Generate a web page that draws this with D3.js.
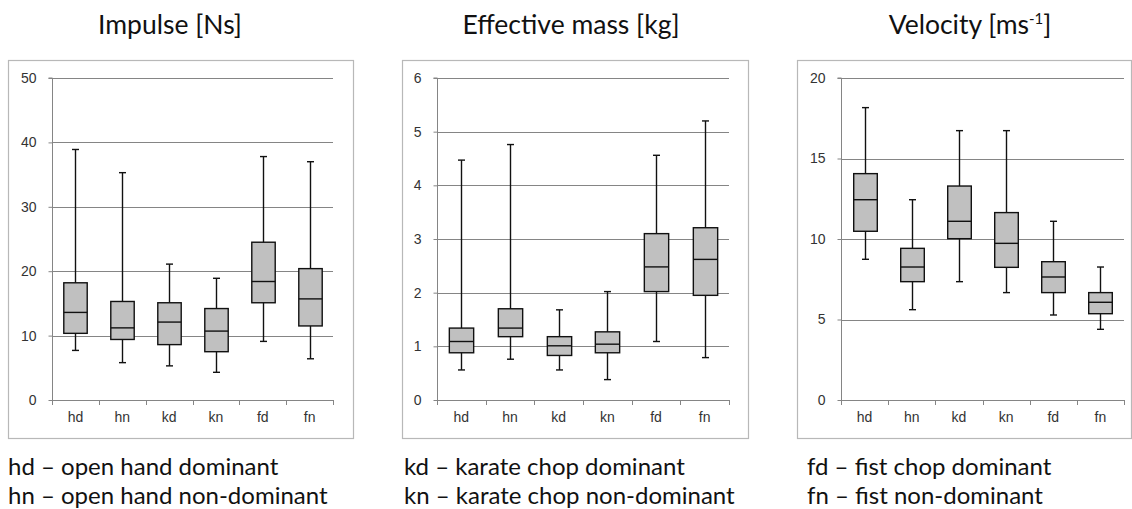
<!DOCTYPE html>
<html><head><meta charset="utf-8">
<script src="https://cdn.jsdelivr.net/npm/d3@7"></script>
<style>body{margin:0;background:#fff}svg{display:block}</style>
</head><body>
<svg id="c" width="1132" height="509"></svg>
<script>
const categories = ["hd","hn","kd","kn","fd","fn"];
// [low whisker, Q1, median, Q3, high whisker]
const impulse = [[7.7,10.35,13.6,18.2,38.9],[5.8,9.4,11.2,15.3,35.3],[5.3,8.6,12.1,15.1,21.1],[4.3,7.5,10.7,14.2,18.9],[9.1,15.1,18.4,24.5,37.8],[6.4,11.5,15.7,20.4,37.0]];
const mass = [[0.56,0.88,1.09,1.34,4.47],[0.76,1.18,1.34,1.70,4.76],[0.56,0.83,1.01,1.18,1.68],[0.38,0.88,1.04,1.27,2.02],[1.09,2.02,2.48,3.10,4.56],[0.79,1.95,2.62,3.21,5.20]];
const velocity = [[8.74,10.48,12.44,14.06,18.16],[5.61,7.35,8.26,9.42,12.44],[7.35,10.02,11.10,13.29,16.73],[6.67,8.24,9.73,11.64,16.73],[5.28,6.67,7.64,8.59,11.10],[4.39,5.36,6.07,6.67,8.26]];
const impulseTicks = [0,10,20,30,40,50];
const massTicks = [0,1,2,3,4,5,6];
const velocityTicks = [0,5,10,15,20];
const titles = ["Impulse [Ns]","Effective mass [kg]","Velocity [ms","-1","]"];
const legendLines = [["hd – open hand dominant","hn – open hand non-dominant"],["kd – karate chop dominant","kn – karate chop non-dominant"],["fd – fist chop dominant","fn – fist non-dominant"]];

const svg = d3.select("#c");
const panels = [
  {data:impulse, ticks:impulseTicks, max:50, frame:[8,60,353,438], plot:[52,333], title:titles[0], tx:170, legend:legendLines[0], lx:8},
  {data:mass, ticks:massTicks, max:6, frame:[402,60,748,438], plot:[437,729], title:titles[1], tx:571, legend:legendLines[1], lx:404},
  {data:velocity, ticks:velocityTicks, max:20, frame:[797,60,1131,438], plot:[841,1124], sup:true, tx:970, legend:legendLines[2], lx:807}
];
const yTop = 78, yBot = 400;
const fontUI = "Lato, 'Open Sans', sans-serif";

panels.forEach(p => {
  const g = svg.append("g");
  g.append("rect").attr("x",p.frame[0]+0.5).attr("y",p.frame[1]+0.5)
    .attr("width",p.frame[2]-p.frame[0]).attr("height",p.frame[3]-p.frame[1])
    .attr("fill","#fff").attr("stroke","#b8b8b8").attr("stroke-width",1.2);
  const x = d3.scaleBand().domain(categories).range(p.plot).paddingInner(0).paddingOuter(0);
  const y = d3.scaleLinear().domain([0,p.max]).range([yBot,yTop]);
  g.append("g").selectAll("line").data(p.ticks.filter(t=>t>0)).join("line")
    .attr("x1",p.plot[0]).attr("x2",p.plot[1])
    .attr("y1",d=>Math.round(y(d))+0.5).attr("y2",d=>Math.round(y(d))+0.5)
    .attr("stroke","#858585").attr("stroke-width",1.1);
  const ya = d3.axisLeft(y).tickValues(p.ticks).tickSize(4).tickPadding(12).tickFormat(d3.format("d"));
  const yg = g.append("g").attr("transform",`translate(${p.plot[0]+0.5},0)`).call(ya);
  yg.select(".domain").attr("stroke","#858585").attr("d",`M-4,${yTop}H0V${yBot}`);
  yg.selectAll(".tick line").attr("stroke","#858585");
  yg.selectAll("text").attr("font-family","Arial, 'Liberation Sans', sans-serif").attr("font-size",14).attr("fill","#333");
  const xa = d3.axisBottom(x).tickSize(0).tickPadding(12);
  const xg = g.append("g").attr("transform",`translate(0,${yBot+0.5})`).call(xa);
  xg.select(".domain").attr("stroke","#858585").attr("d",`M${p.plot[0]},0H${p.plot[1]}`);
  xg.selectAll("text").attr("font-family","Arial, 'Liberation Sans', sans-serif").attr("font-size",14).attr("fill","#333");
  const bounds = categories.map(c=>x(c)).concat([p.plot[1]]);
  g.append("g").selectAll("line").data(bounds).join("line")
    .attr("x1",d=>Math.round(d)+0.5).attr("x2",d=>Math.round(d)+0.5)
    .attr("y1",yBot).attr("y2",yBot+5).attr("stroke","#858585");
  const bw = x.bandwidth()*0.5, cap = 7;
  const bx = g.append("g").selectAll("g").data(p.data).join("g")
    .attr("transform",(d,i)=>`translate(${Math.round(x(categories[i])+x.bandwidth()/2)+0.5},0)`);
  const sw = 1.4, sc = "#111";
  bx.append("line").attr("y1",d=>y(d[4])).attr("y2",d=>y(d[0])).attr("stroke",sc).attr("stroke-width",sw);
  bx.append("line").attr("x1",-cap/2).attr("x2",cap/2).attr("y1",d=>y(d[4])).attr("y2",d=>y(d[4])).attr("stroke",sc).attr("stroke-width",sw);
  bx.append("line").attr("x1",-cap/2).attr("x2",cap/2).attr("y1",d=>y(d[0])).attr("y2",d=>y(d[0])).attr("stroke",sc).attr("stroke-width",sw);
  bx.append("rect").attr("x",-bw/2).attr("width",bw).attr("y",d=>y(d[3])).attr("height",d=>y(d[1])-y(d[3]))
    .attr("fill","#c0c0c0").attr("stroke",sc).attr("stroke-width",sw);
  bx.append("line").attr("x1",-bw/2).attr("x2",bw/2).attr("y1",d=>y(d[2])).attr("y2",d=>y(d[2])).attr("stroke",sc).attr("stroke-width",sw);
  const t = svg.append("text").attr("x",p.tx).attr("y",34).attr("text-anchor","middle")
    .attr("font-family",fontUI).attr("font-size",26.5).attr("fill","#111");
  if (p.sup) {
    t.append("tspan").text(titles[2]);
    t.append("tspan").attr("font-size",15).attr("dy",-10).text(titles[3]);
    t.append("tspan").attr("dy",10).text(titles[4]);
  } else t.text(p.title);
  p.legend.forEach((s,i)=>{
    svg.append("text").attr("x",p.lx).attr("y",475+i*29).attr("font-family",fontUI)
      .attr("font-size",24).attr("fill","#111").text(s);
  });
});
</script>
</body></html>
